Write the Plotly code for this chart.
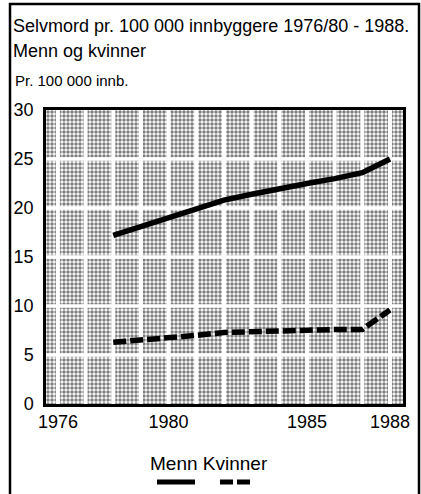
import plotly.graph_objects as go

years = [1978, 1979, 1980, 1981, 1982, 1983, 1984, 1985, 1986, 1987, 1988]
menn = [17.2, 18.1, 19.0, 19.9, 20.8, 21.4, 22.0, 22.5, 23.0, 23.6, 25.0]
kvinner = [6.3, 6.5, 6.8, 7.0, 7.3, 7.4, 7.5, 7.6, 7.6, 7.6, 9.6]
x_ticks = [1976, 1980, 1985, 1988]
y_ticks = [0, 5, 10, 15, 20, 25, 30]
grid_years = list(range(1976, 1989))
grid_vals = [5, 10, 15, 20, 25]

FONT = "Liberation Sans, Arial, sans-serif"
XR = [1975.57, 1988.47]
YR = [0, 30]
W, H = 421, 494
ML, MR, MT, MB = 46, 18, 110, 90
pw, ph = W - ML - MR, H - MT - MB


def px_x(v):
    return (v - ML) / pw


def px_y(v):
    return (H - v - MB) / ph


fig = go.Figure()
# patterned background
fig.add_trace(go.Bar(x=[(XR[0] + XR[1]) / 2], y=[YR[1]], width=[XR[1] - XR[0]],
                     marker=dict(color="white", line=dict(width=0),
                                 pattern=dict(shape=".", fgcolor="black", bgcolor="white",
                                              size=4, solidity=0.6)),
                     hoverinfo="skip", showlegend=False))
# white grid lines
for g in grid_years:
    fig.add_trace(go.Scatter(x=[g, g], y=YR, mode="lines",
                             line=dict(color="white", width=4), showlegend=False, hoverinfo="skip"))
for g in grid_vals:
    fig.add_trace(go.Scatter(x=XR, y=[g, g], mode="lines",
                             line=dict(color="white", width=3.5), showlegend=False, hoverinfo="skip"))

fig.add_trace(go.Scatter(x=years, y=menn, mode="lines", name="Menn",
                         line=dict(color="black", width=5.5), showlegend=False))
fig.add_trace(go.Scatter(x=years, y=kvinner, mode="lines", name="Kvinner",
                         line=dict(color="black", width=5.5, dash="13px,4px"), showlegend=False))


def ann(text, x, y, size):
    return dict(text=text, x=px_x(x), y=px_y(y), xref="paper", yref="paper",
                showarrow=False, xanchor="left", yanchor="middle",
                font=dict(size=size, family=FONT, color="black"))


fig.update_layout(
    width=W, height=H,
    margin=dict(l=ML, r=MR, t=MT, b=MB, autoexpand=False),
    paper_bgcolor="white", plot_bgcolor="white",
    font=dict(family=FONT, color="black", size=18),
    bargap=0,
    xaxis=dict(range=XR, tickvals=x_ticks, ticktext=[str(v) for v in x_ticks],
               showgrid=False, zeroline=False, showline=True, linecolor="black", linewidth=2.5,
               mirror=True, ticks="", automargin=False, ticklabelstandoff=0,
               tickfont=dict(size=18, family=FONT)),
    yaxis=dict(range=YR, tickvals=y_ticks, showgrid=False, zeroline=False,
               showline=True, linecolor="black", linewidth=2.5, mirror=True, ticks="",
               automargin=False, ticklabelstandoff=6, tickfont=dict(size=18, family=FONT)),
    annotations=[
        ann("Selvmord pr. 100 000 innbyggere 1976/80 - 1988.", 11, 26, 18),
        ann("Menn og kvinner", 11, 51, 18),
        ann("Pr. 100 000 innb.", 13, 80, 15),
        ann("Menn Kvinner", 148, 463, 19),
    ],
    shapes=[
        dict(type="rect", xref="paper", yref="paper", x0=px_x(10), x1=px_x(419),
             y0=px_y(4), y1=px_y(520), line=dict(color="black", width=2.5)),
        dict(type="line", xref="paper", yref="paper", x0=px_x(157), x1=px_x(195),
             y0=px_y(482), y1=px_y(482), line=dict(color="black", width=5)),
        dict(type="line", xref="paper", yref="paper", x0=px_x(220), x1=px_x(251),
             y0=px_y(482), y1=px_y(482), line=dict(color="black", width=5, dash="13px,4px")),
    ],
)
fig.write_html("out.html", config={"displayModeBar": False},
               post_script="document.body.style.margin='0';document.body.style.overflow='hidden';")
